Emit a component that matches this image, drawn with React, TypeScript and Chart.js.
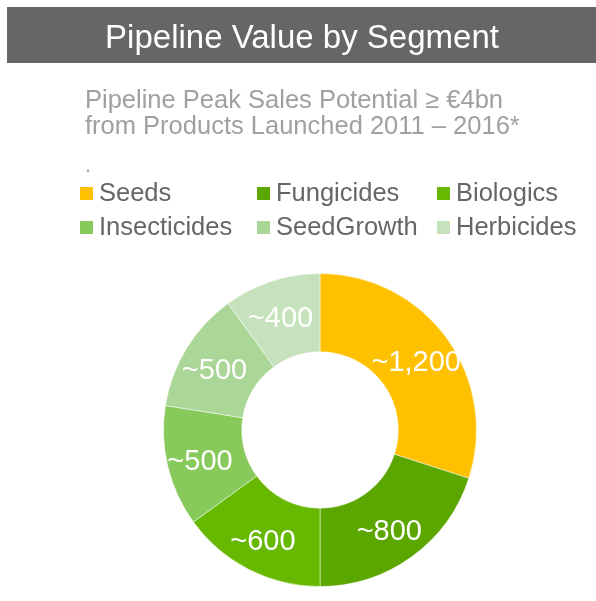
import React, { useEffect, useRef } from "react";
import { Chart, registerables } from "chart.js";

Chart.register(...registerables);

const TITLE = "Pipeline Value by Segment";
const SUBTITLE_LINES = ["Pipeline Peak Sales Potential \u2265 \u20ac4bn", "from Products Launched 2011 \u2013 2016*", "."];
const SEGMENTS = ["Seeds", "Fungicides", "Biologics", "Insecticides", "SeedGrowth", "Herbicides"];
const VALUES = [1200, 800, 600, 500, 500, 400];
const VALUE_LABELS = ["~1,200", "~800", "~600", "~500", "~500", "~400"];
const COLORS = ["#FFC000", "#5BA700", "#66B800", "#88C95B", "#AAD697", "#C6E2BC"];

const FONT = "'Liberation Sans', Arial, Helvetica, sans-serif";

const headerPlugin = {
  id: "header",
  beforeDraw(chart: any) {
    const ctx = chart.ctx;
    ctx.save();
    ctx.fillStyle = "#ffffff";
    ctx.fillRect(0, 0, chart.width, chart.height);
    ctx.fillStyle = "#666666";
    ctx.fillRect(7, 7, chart.width - 7, 56);
    ctx.fillStyle = "#ffffff";
    ctx.font = `33px ${FONT}`;
    ctx.textAlign = "center";
    ctx.textBaseline = "alphabetic";
    ctx.fillText(TITLE, 302, 48);

    ctx.fillStyle = "#a0a0a0";
    ctx.font = `25.5px ${FONT}`;
    ctx.textAlign = "left";
    ctx.fillText(SUBTITLE_LINES[0], 85, 108);
    ctx.fillText(SUBTITLE_LINES[1], 85, 134);
    ctx.font = `22px ${FONT}`;
    ctx.fillText(SUBTITLE_LINES[2], 85, 172);

    // legend
    const colX = [80, 257, 437];
    const rowY = [187, 221];
    ctx.font = `25.5px ${FONT}`;
    SEGMENTS.forEach((name, i) => {
      const x = colX[i % 3];
      const y = rowY[Math.floor(i / 3)];
      ctx.fillStyle = COLORS[i];
      ctx.fillRect(x, y, 13, 13);
      ctx.fillStyle = "#666666";
      ctx.fillText(name, x + 19, y + 14);
    });
    ctx.restore();
  },
};

const valueLabelPlugin = {
  id: "valueLabels",
  afterDatasetsDraw(chart: any) {
    const ctx = chart.ctx;
    const meta = chart.getDatasetMeta(0);
    ctx.save();
    ctx.fillStyle = "#ffffff";
    ctx.font = `29px ${FONT}`;
    ctx.textAlign = "center";
    ctx.textBaseline = "middle";
    meta.data.forEach((arc: any, i: number) => {
      const p = arc.getProps(["x", "y", "startAngle", "endAngle", "innerRadius", "outerRadius"], true);
      const mid = (p.startAngle + p.endAngle) / 2;
      const r = (p.innerRadius + p.outerRadius) / 2 + 4;
      ctx.fillText(VALUE_LABELS[i], p.x + Math.cos(mid) * r - 2, p.y + Math.sin(mid) * r + 4);
    });
    ctx.restore();
  },
};

export default function App() {
  const ref = useRef<HTMLCanvasElement | null>(null);
  useEffect(() => {
    if (!ref.current) return;
    const chart = new Chart(ref.current, {
      type: "doughnut",
      data: {
        labels: SEGMENTS,
        datasets: [
          {
            data: VALUES,
            backgroundColor: COLORS,
            borderColor: "rgba(255,255,255,0.5)",
            borderWidth: 1,
          },
        ],
      },
      options: {
        responsive: false,
        animation: false,
        devicePixelRatio: 1,
        cutout: "50%",
        layout: { padding: { top: 273, bottom: 14, left: 163, right: 119 } },
        plugins: {
          legend: { display: false },
          tooltip: { enabled: false },
          title: { display: false },
        },
      },
      plugins: [headerPlugin, valueLabelPlugin],
    });
    return () => chart.destroy();
  }, []);
  return (
    <div style={{ position: "absolute", left: 0, top: 0, width: 596, height: 601, background: "#fff" }}>
      <canvas ref={ref} width={596} height={601} style={{ display: "block" }} />
    </div>
  );
}
